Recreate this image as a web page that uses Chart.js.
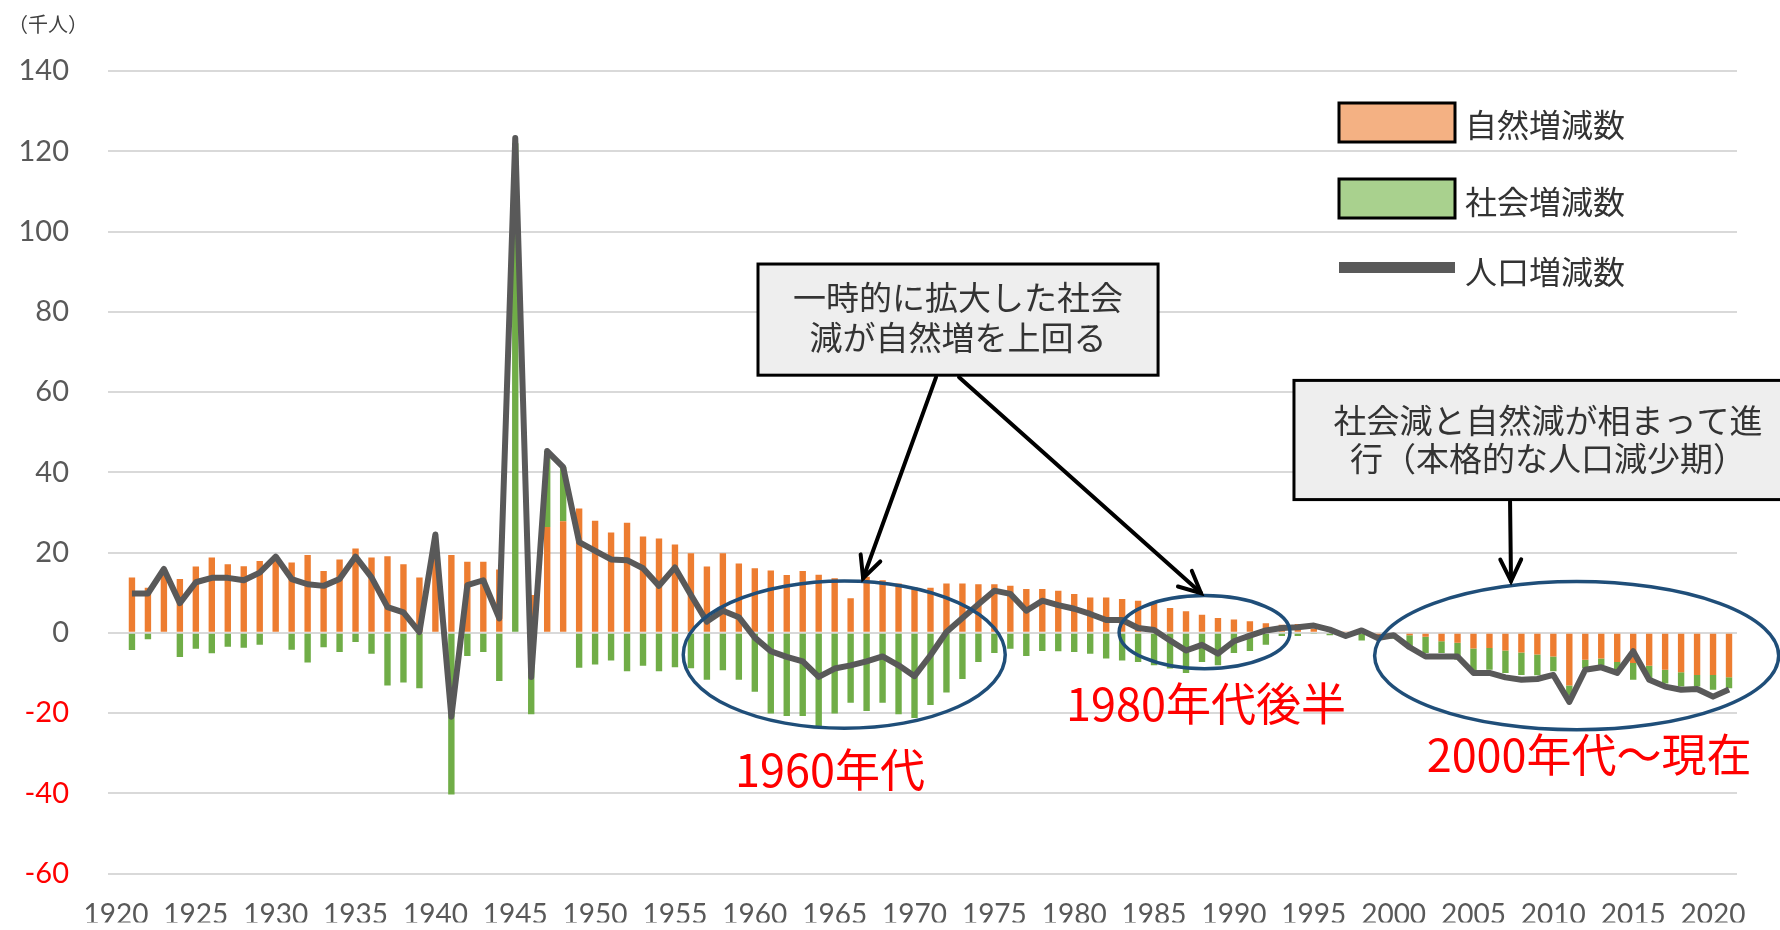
<!DOCTYPE html>
<html lang="ja">
<head>
<meta charset="utf-8">
<title>人口増減数の推移</title>
<script src="https://cdn.jsdelivr.net/npm/chart.js@4.4.0/dist/chart.umd.min.js"></script>
<style>
  html, body { margin: 0; padding: 0; background: #fff; }
  #wrap { width: 1780px; height: 930px; }
</style>
</head>
<body>
<div id="wrap"><canvas id="popChart" width="1780" height="930"></canvas></div>
<script>
// categories: 1920 .. 2021 (1920 has no data)
var years = [];
for (var yr = 1920; yr <= 2021; yr++) years.push(String(yr));

var tickYears = ['1920', '1925', '1930', '1935', '1940', '1945', '1950', '1955', '1960', '1965',
  '1970', '1975', '1980', '1985', '1990', '1995', '2000', '2005', '2010', '2015', '2020'];

// 自然増減数 (千人)
var natural = [null,
  13.8, 11.2, 15.9, 13.4, 16.5, 18.8, 17.1, 16.6, 17.9, 19.2,
  17.5, 19.4, 15.4, 18.3, 21.0, 18.8, 19.1, 17.1, 13.8, 19.0,
  19.4, 17.7, 17.7, 15.8, 0, 9.4, 26.4, 27.8, 31.0, 27.9,
  25.0, 27.4, 24.0, 23.5, 22.0, 19.8, 16.5, 19.8, 17.3, 16.1,
  15.5, 14.4, 15.4, 14.5, 13.6, 8.6, 14.0, 13.1, 12.3, 11.3,
  11.2, 12.3, 12.3, 12.1, 12.1, 11.7, 10.9, 10.9, 10.5, 9.7,
  8.8, 8.8, 8.4, 8.0, 7.3, 6.2, 5.4, 4.5, 3.7, 3.3,
  2.9, 2.4, 2.0, 2.2, 1.0, 0.5, 0.2, 0.1, -0.8, -0.7,
  -0.6, -1.0, -2.1, -2.5, -3.9, -3.8, -4.4, -4.9, -5.4, -5.9,
  -13.1, -6.7, -6.4, -7.3, -7.5, -8.2, -9.2, -9.8, -10.5, -10.5,
  -11.1];

// 社会増減数 (千人)
var social = [null,
  -4.3, -1.6, 0, -6.0, -4.0, -5.1, -3.5, -3.7, -3.0, 0,
  -4.2, -7.4, -3.6, -4.8, -2.3, -5.2, -13.1, -12.4, -13.8, 0,
  -40.3, -5.8, -4.8, -12.0, 122.0, -20.3, 18.9, 13.5, -8.7, -7.9,
  -6.9, -9.6, -8.2, -9.6, -8.6, -8.8, -11.7, -9.3, -11.7, -14.7,
  -20.1, -20.7, -20.7, -23.6, -20.1, -17.4, -19.5, -17.4, -20.3, -21.2,
  -18.0, -14.9, -11.5, -7.3, -5.0, -4.0, -5.8, -4.5, -4.6, -4.8,
  -5.2, -6.4, -6.9, -7.3, -8.1, -8.9, -10.0, -7.3, -8.1, -5.0,
  -4.5, -3.0, -0.8, -0.8, -0.3, -0.6, -0.5, -1.9, -0.3, -0.8,
  -3.3, -4.0, -2.9, -4.2, -5.7, -5.4, -5.6, -5.6, -5.2, -3.7,
  -2.4, -2.1, -1.7, -1.9, -4.2, -3.5, -3.4, -3.6, -2.9, -3.7,
  -2.7];

// 人口増減数 (千人)
var total = [null,
  9.8, 9.8, 15.9, 7.4, 12.6, 13.7, 13.7, 13.1, 15.0, 19.0,
  13.4, 12.1, 11.7, 13.4, 19.0, 13.8, 6.4, 5.1, 0.2, 24.5,
  -20.9, 11.9, 13.1, 3.6, 123.3, -11.0, 45.3, 41.3, 22.6, 20.4,
  18.3, 18.1, 16.1, 11.7, 16.3, 9.4, 2.8, 5.5, 3.9, -1.2,
  -4.6, -6.0, -7.1, -11.0, -8.9, -8.1, -7.1, -5.9, -8.1, -10.8,
  -5.6, 0.2, 3.7, 7.1, 10.5, 9.7, 5.5, 8.0, 6.9, 6.0,
  4.7, 3.2, 3.2, 1.2, 0.7, -1.9, -4.4, -3.0, -5.2, -2.1,
  -0.7, 0.6, 1.2, 1.4, 1.8, 0.8, -0.8, 0.6, -1.3, -0.6,
  -3.6, -5.9, -5.9, -5.9, -10.0, -10.0, -11.1, -11.7, -11.5, -10.5,
  -17.2, -9.2, -8.6, -10.0, -4.6, -11.7, -13.4, -14.2, -14.0, -15.9,
  -14.1];

var yMin = -60, yMax = 140, yStep = 20;

var jp = '"Noto Sans CJK JP", "Noto Sans", sans-serif';

// callouts, placed in data units (year, 千人)
var ellipses = [
  { x: 1965.6, y: -5.45, rx: 10.08, ry: 18.34 },
  { x: 1988.16, y: 0.17, rx: 5.35, ry: 9.1 },
  { x: 2011.46, y: -5.7, rx: 12.65, ry: 18.46 }
];
var redLabels = [
  { text: '1960年代', x: 1964.71, y: -34.2 },
  { text: '1980年代後半', x: 1988.25, y: -17.8 },
  { text: '2000年代～現在', x: 2012.24, y: -30.4 }
];
var boxes = [
  { x1: 1960.2, x2: 1985.25, y1: 91.9, y2: 64.2, cx: 1972.72,
    lines: ['一時的に拡大した社会', '減が自然増を上回る'], ly: [83.5, 73.6] },
  { x1: 1993.76, x2: 2026, y1: 62.9, y2: 33.2, cx: 2009.67,
    lines: ['社会減と自然減が相まって進', '行（本格的な人口減少期）'], ly: [53.0, 43.4] }
];
var arrows = [
  { x1: 1971.35, y1: 63.7, x2: 1966.78, y2: 13.6 },
  { x1: 1972.79, y1: 63.7, x2: 1987.94, y2: 9.9 },
  { x1: 2007.29, y1: 32.7, x2: 2007.35, y2: 12.9 }
];

function drawArrow(ctx, x1, y1, x2, y2) {
  ctx.beginPath();
  ctx.moveTo(x1, y1);
  ctx.lineTo(x2, y2);
  ctx.stroke();
  var a = Math.atan2(y2 - y1, x2 - x1), L = 24, w = 0.45;
  ctx.beginPath();
  ctx.moveTo(x2 - L * Math.cos(a - w), y2 - L * Math.sin(a - w));
  ctx.lineTo(x2, y2);
  ctx.lineTo(x2 - L * Math.cos(a + w), y2 - L * Math.sin(a + w));
  ctx.stroke();
}

var notesPlugin = {
  id: 'notes',
  afterDraw: function (chart) {
    var ctx = chart.ctx;
    var xs = chart.scales.x, ys = chart.scales.y;
    var X = function (year) { return xs.getPixelForValue(year - 1920); };
    var Y = function (v) { return ys.getPixelForValue(v); };
    var xw = function (n) { return X(1920 + n) - X(1920); };
    var yh = function (n) { return Y(0) - Y(n); };
    ctx.save();

    // unit
    ctx.fillStyle = '#404040';
    ctx.font = '20px ' + jp;
    ctx.textAlign = 'left';
    ctx.textBaseline = 'middle';
    ctx.fillText('（千人）', 8, 24);

    // legend
    ctx.lineWidth = 3;
    ctx.strokeStyle = '#000';
    ctx.fillStyle = '#F4B183';
    ctx.fillRect(1339, 103, 116, 39);
    ctx.strokeRect(1339, 103, 116, 39);
    ctx.fillStyle = '#A9D18E';
    ctx.fillRect(1339, 179, 116, 39);
    ctx.strokeRect(1339, 179, 116, 39);
    ctx.fillStyle = '#595959';
    ctx.fillRect(1339, 262, 116, 11);
    ctx.fillStyle = '#333';
    ctx.font = '32px ' + jp;
    ctx.fillText('自然増減数', 1465, 125);
    ctx.fillText('社会増減数', 1465, 202);
    ctx.fillText('人口増減数', 1465, 272);

    // ellipses
    ctx.strokeStyle = '#1F4E79';
    ctx.lineWidth = 3.5;
    ellipses.forEach(function (e) {
      ctx.beginPath();
      ctx.ellipse(X(e.x), Y(e.y), xw(e.rx), yh(e.ry), 0, 0, Math.PI * 2);
      ctx.stroke();
    });

    // red period labels
    ctx.fillStyle = '#FF0000';
    ctx.font = '45px ' + jp;
    ctx.textAlign = 'center';
    redLabels.forEach(function (t) {
      ctx.fillText(t.text, X(t.x), Y(t.y));
    });

    // callout boxes
    boxes.forEach(function (b) {
      var bx = X(b.x1), by = Y(b.y1), bw = X(b.x2) - bx, bh = Y(b.y2) - by;
      ctx.fillStyle = '#EEEEEE';
      ctx.fillRect(bx, by, bw, bh);
      ctx.strokeStyle = '#000';
      ctx.lineWidth = 3;
      ctx.strokeRect(bx, by, bw, bh);
      ctx.fillStyle = '#333';
      ctx.font = '33px ' + jp;
      ctx.textAlign = 'center';
      b.lines.forEach(function (s, i) {
        ctx.fillText(s, X(b.cx), Y(b.ly[i]));
      });
    });

    // arrows
    ctx.strokeStyle = '#000';
    ctx.lineWidth = 4;
    ctx.lineCap = 'round';
    arrows.forEach(function (a) {
      drawArrow(ctx, X(a.x1), Y(a.y1), X(a.x2), Y(a.y2));
    });
    ctx.restore();
  }
};

var ctx = document.getElementById('popChart').getContext('2d');
var popChart = new Chart(ctx, {
  type: 'bar',
  data: {
    labels: years,
    datasets: [{
      type: 'line',
      label: '人口増減数',
      data: total,
      borderColor: '#595959',
      borderWidth: 6,
      borderJoinStyle: 'round',
      pointRadius: 0,
      tension: 0,
      stack: 'pop',
      order: -1
    }, {
      label: '自然増減数',
      data: natural,
      backgroundColor: '#ED7D31',
      stack: 'chg',
      categoryPercentage: 1.0,
      barPercentage: 0.4
    }, {
      label: '社会増減数',
      data: social,
      backgroundColor: '#70AD47',
      stack: 'chg',
      categoryPercentage: 1.0,
      barPercentage: 0.4
    }]
  },
  options: {
    responsive: false,
    animation: false,
    devicePixelRatio: 1,
    layout: { padding: { top: 71, right: 43, left: 0, bottom: 0 } },
    plugins: {
      legend: { display: false },
      tooltip: { enabled: false }
    },
    scales: {
      x: {
        stacked: true,
        grid: { display: false, drawTicks: false },
        border: { display: false },
        ticks: {
          autoSkip: false,
          maxRotation: 0,
          padding: 25,
          color: '#595959',
          font: { family: 'Lato', size: 28 },
          callback: function (v, i) {
            var lab = years[i];
            return tickYears.indexOf(lab) >= 0 ? lab : '';
          }
        },
        afterFit: function (s) { s.height = 49; }
      },
      y: {
        stacked: true,
        min: yMin,
        max: yMax,
        grid: { color: '#D9D9D9', lineWidth: 2, drawTicks: false },
        border: { display: false },
        ticks: {
          stepSize: yStep,
          padding: 39,
          color: function (c) { return c.tick && c.tick.value < 0 ? '#FF0000' : '#595959'; },
          font: { family: 'Lato', size: 29 }
        },
        afterFit: function (s) { s.width = 108; }
      }
    }
  },
  plugins: [notesPlugin]
});
</script>
</body>
</html>
